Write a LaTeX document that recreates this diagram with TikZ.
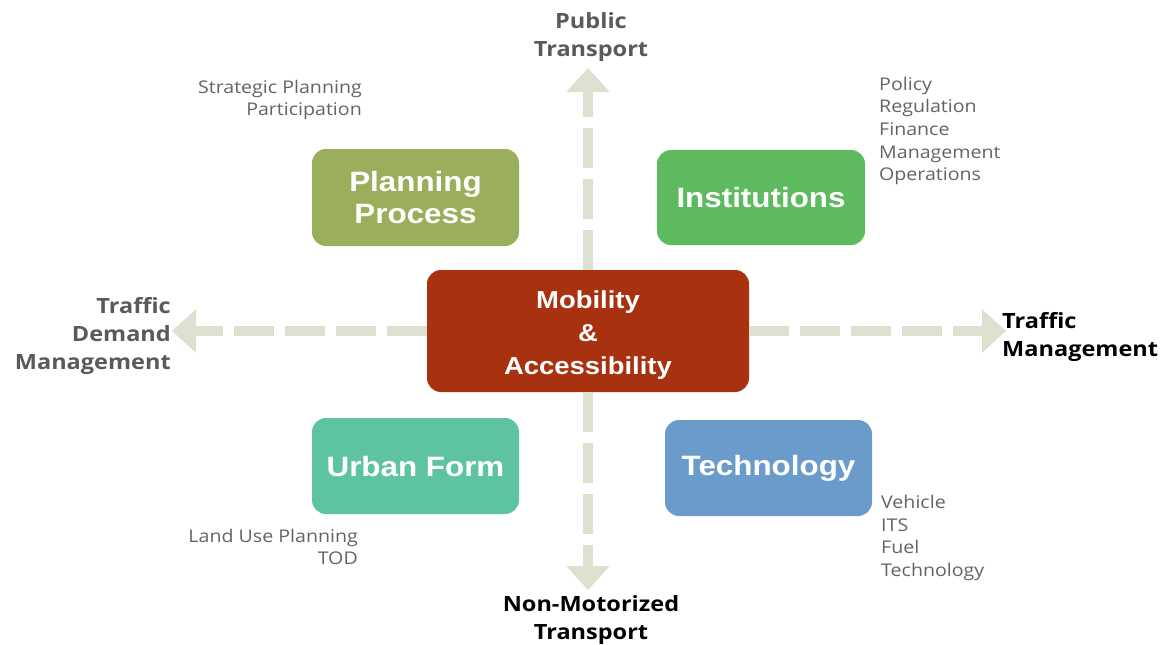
\documentclass[tikz,border=0pt]{standalone}
\usepackage{fontspec}
\setmainfont[FakeStretch=1.12]{Open Sans}
\newfontfamily\boxfont[FakeStretch=1.12]{Liberation Sans}
\usetikzlibrary{arrows.meta}
\definecolor{arrowc}{RGB}{219,225,206}
\definecolor{planc}{RGB}{154,174,91}
\definecolor{instc}{RGB}{93,186,95}
\definecolor{mobc}{RGB}{168,50,15}
\definecolor{urbc}{RGB}{94,195,163}
\definecolor{techc}{RGB}{107,155,203}
\definecolor{labgray}{RGB}{90,90,90}
\definecolor{smallgray}{RGB}{100,100,100}
\tikzset{
  box/.style={rounded corners=14pt, text=white, align=center, inner sep=0pt,
    font=\boxfont\bfseries\fontsize{28}{31.5}\selectfont},
  arrowline/.style={draw=arrowc, line width=10pt, dash pattern=on 40pt off 11pt,
    -{Triangle[width=42pt,length=24pt]}},
  biglabel/.style={font=\bfseries\fontsize{21}{28}\selectfont, align=center, inner sep=0pt},
  smalllabel/.style={font=\fontsize{17.5}{22.7}\selectfont, text=smallgray, inner sep=0pt},
}
\begin{document}
\begin{tikzpicture}[x=1pt,y=-1pt]
\useasboundingbox (0,0) rectangle (1163,645);
\fill[white] (0,0) rectangle (1163,645);

% central node
\node[box, fill=mobc, minimum width=322pt, minimum height=122pt] (mob) at (588,331) {};
\node[text=white, align=center, inner sep=0pt,
  font=\boxfont\bfseries\fontsize{24.5}{33}\selectfont] (mobtext) at (588,335) {Mobility\\\&\\Accessibility};

% end points of the arrows
\coordinate (up) at (588,68);
\coordinate (down) at (588,590);
\coordinate (left) at (172,331);
\coordinate (right) at (1006,331);

\draw[arrowline] (mob.north) -- (up);
\draw[arrowline] (mob.south) -- (down);
\draw[arrowline] (mob.west) -- (left);
\draw[arrowline] (mob.east) -- (right);

\node[box, fill=planc, minimum width=207pt, minimum height=97pt] (plan) at (415.5,197.5) {Planning\\Process};
\node[box, fill=instc, minimum width=208pt, minimum height=95pt] (inst) at (761,197.5) {Institutions};
\node[box, fill=urbc, minimum width=207pt, minimum height=96pt] (urb) at (415.5,466) {Urban Form};
\node[box, fill=techc, minimum width=207pt, minimum height=96pt] (tech) at (768.5,468) {Technology};

% axis labels
\node[biglabel, text=labgray] (pt) at (591,37) {Public\\Transport};
\node[biglabel, text=labgray, align=right, anchor=east] (tdm) at (171,336) {Traffic\\Demand\\Management};
\node[biglabel, text=black, align=left, anchor=west] (tm) at (1002,337) {Traffic\\Management};
\node[biglabel, text=black] (nmt) at (591,620.5) {Non-Motorized\\Transport};

% small labels
\node[smalllabel, align=right, anchor=east] (planl) at (362,100) {Strategic Planning\\Participation};
\node[smalllabel, align=left, anchor=west] (instl) at (879,131) {Policy\\Regulation\\Finance\\Management\\Operations};
\node[smalllabel, align=right, anchor=east] (urbl) at (358,547) {Land Use Planning\\TOD};
\node[smalllabel, align=left, anchor=west] (techl) at (881,538) {Vehicle\\ITS\\Fuel\\Technology};
\end{tikzpicture}
\end{document}
